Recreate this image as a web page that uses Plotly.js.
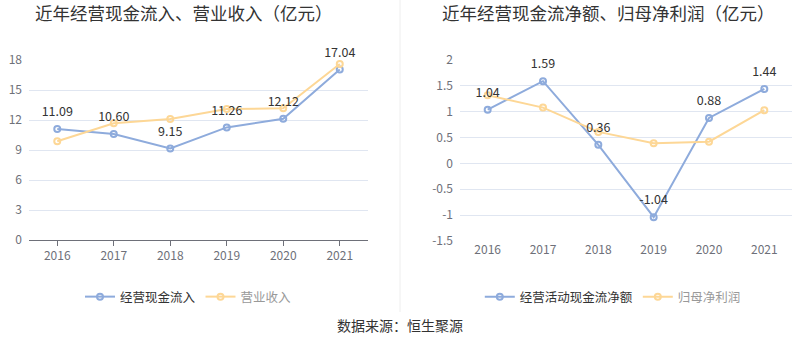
<!DOCTYPE html>
<html><head><meta charset="utf-8">
<script src="https://cdn.plot.ly/plotly-3.0.1.min.js"></script>
<style>html,body{margin:0;padding:0;background:#fff}#c{width:800px;height:358px}</style>
</head><body><div id="c"></div>
<script>
const years = ['2016','2017','2018','2019','2020','2021'];
const cashInflow = [11.09, 10.60, 9.15, 11.26, 12.12, 17.04];
const revenue = [9.87, 11.67, 12.10, 13.10, 13.17, 17.60];
const netCashFlow = [1.04, 1.59, 0.36, -1.04, 0.88, 1.44];
const netProfit = [1.32, 1.08, 0.61, 0.39, 0.42, 1.03];
const leftTicks = [0, 3, 6, 9, 12, 15, 18];
const rightTicks = [-1.5, -1, -0.5, 0, 0.5, 1, 1.5, 2];

const FONT = '"Noto Sans CJK SC", "Noto Sans", sans-serif';
const BLUE = '#8eabdc', ORANGE = '#fdd796';
const H = 358;
const py = v => 1 - v / H;

function ser(x, y, name, color, xa, ya, legend, nameColor) {
  return {
    x: x, y: y, xaxis: xa, yaxis: ya, legend: legend,
    name: '<span style="color:' + nameColor + '">' + name + '</span>',
    type: 'scatter', mode: 'lines+markers',
    line: {color: color, width: 2},
    marker: {symbol: 'circle-open', size: 6, color: color, line: {width: 2, color: color}},
    cliponaxis: false, hoverinfo: 'skip'
  };
}
function labels(x, y, xa, ya) {
  return {
    x: x, y: y, xaxis: xa, yaxis: ya, type: 'scatter', mode: 'markers+text', showlegend: false,
    text: y.map(v => v.toFixed(2)), textposition: 'top center',
    marker: {size: 14, opacity: 0, color: '#fff'},
    textfont: {size: 12.5, color: '#333', family: FONT},
    cliponaxis: false, hoverinfo: 'skip'
  };
}

const data = [
  ser(years, cashInflow, '经营现金流入', BLUE, 'x', 'y', 'legend', '#333'),
  ser(years, revenue, '营业收入', ORANGE, 'x', 'y', 'legend', '#999'),
  ser(years, netCashFlow, '经营活动现金流净额', BLUE, 'x2', 'y2', 'legend2', '#333'),
  ser(years, netProfit, '归母净利润', ORANGE, 'x2', 'y2', 'legend2', '#999'),
  labels(years, cashInflow, 'x', 'y'),
  labels(years, netCashFlow, 'x2', 'y2')
];

const tickFont = {size: 12, color: '#6e7079', family: FONT};
const layout = {
  width: 800, height: 358,
  margin: {l: 0, r: 0, t: 0, b: 0},
  paper_bgcolor: '#fff', plot_bgcolor: 'rgba(0,0,0,0)',
  font: {family: FONT},
  xaxis: {
    domain: [29/800, 368/800], anchor: 'y', type: 'category', range: [-0.5, 5.5],
    showgrid: false, showline: true, linecolor: '#6e7079', linewidth: 1,
    ticks: 'outside', ticklen: 5, tickcolor: '#6e7079', tickfont: tickFont, fixedrange: true
  },
  yaxis: {
    domain: [py(240), py(60)], anchor: 'x', range: [0, 18], tickvals: leftTicks,
    showgrid: true, gridcolor: '#e0e6f1', zeroline: false, showline: false,
    tickfont: tickFont, ticks: '', ticklabelstandoff: 6, fixedrange: true
  },
  xaxis2: {
    domain: [460/800, 792/800], anchor: 'y2', type: 'category', range: [-0.5, 5.5],
    showgrid: false, showline: false, ticks: '', tickfont: tickFont, fixedrange: true
  },
  xaxis3: {
    domain: [460/800, 792/800], anchor: 'free', overlaying: 'x2', type: 'category',
    range: [-0.5, 5.5], position: py(163), showgrid: false, showline: true,
    linecolor: '#6e7079', linewidth: 1, ticks: 'outside', ticklen: 5, tickcolor: '#6e7079',
    showticklabels: false, tickvals: years, fixedrange: true
  },
  yaxis2: {
    domain: [py(241), py(60)], anchor: 'x2', range: [-1.5, 2], tickvals: rightTicks,
    ticktext: rightTicks.map(v => String(v)),
    showgrid: true, gridcolor: '#e0e6f1', zeroline: false, showline: false,
    tickfont: tickFont, ticks: '', ticklabelstandoff: 6, fixedrange: true
  },
  showlegend: true,
  legend: {orientation: 'h', x: 0.235, xanchor: 'center', y: py(297), yanchor: 'middle',
    font: {size: 12.5, color: '#333', family: FONT}, bgcolor: 'rgba(0,0,0,0)', itemwidth: 30},
  legend2: {orientation: 'h', x: 0.766, xanchor: 'center', y: py(297), yanchor: 'middle',
    font: {size: 12.5, color: '#333', family: FONT}, bgcolor: 'rgba(0,0,0,0)', itemwidth: 30},
  annotations: [
    {text: '近年经营现金流入、营业收入（亿元）', xref: 'paper', yref: 'paper', x: 184/800, y: py(13),
      xanchor: 'center', yanchor: 'middle', showarrow: false, font: {size: 17.5, color: '#333', family: FONT}},
    {text: '近年经营现金流净额、归母净利润（亿元）', xref: 'paper', yref: 'paper', x: 608/800, y: py(13),
      xanchor: 'center', yanchor: 'middle', showarrow: false, font: {size: 17.5, color: '#333', family: FONT}},
    {text: '数据来源：恒生聚源', xref: 'paper', yref: 'paper', x: 0.5, y: py(325),
      xanchor: 'center', yanchor: 'middle', showarrow: false, font: {size: 14, color: '#333', family: FONT}}
  ],
  shapes: [
    {type: 'line', xref: 'paper', yref: 'paper', x0: 0.5, x1: 0.5, y0: py(312), y1: 1,
      line: {color: '#eeeeee', width: 1}}
  ]
};

Plotly.newPlot('c', data, layout, {staticPlot: true, displayModeBar: false});
</script></body></html>
